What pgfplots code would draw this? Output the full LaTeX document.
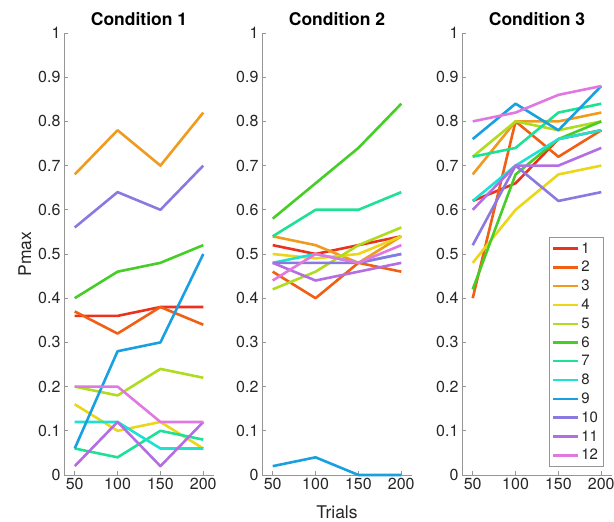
\documentclass[border=0pt]{standalone}
\usepackage{fontspec}
\setmainfont{TeX Gyre Heros}
\usepackage{pgfplots}
\usepackage{pgfplotstable}
\pgfplotsset{compat=1.18}

\definecolor{c1}{RGB}{235,50,30}
\definecolor{c2}{RGB}{240,95,20}
\definecolor{c3}{RGB}{240,155,30}
\definecolor{c4}{RGB}{235,215,25}
\definecolor{c5}{RGB}{175,220,30}
\definecolor{c6}{RGB}{70,205,40}
\definecolor{c7}{RGB}{30,225,150}
\definecolor{c8}{RGB}{30,225,210}
\definecolor{c9}{RGB}{25,160,225}
\definecolor{c10}{RGB}{140,120,225}
\definecolor{c11}{RGB}{180,110,225}
\definecolor{c12}{RGB}{225,120,225}
\definecolor{axgray}{RGB}{150,150,150}
\definecolor{txt}{RGB}{38,38,38}

\pgfplotstableread{
x s1 s2 s3 s4 s5 s6 s7 s8 s9 s10 s11 s12
50 0.36 0.37 0.68 0.16 0.20 0.40 0.06 0.12 0.06 0.56 0.02 0.20
100 0.36 0.32 0.78 0.10 0.18 0.46 0.04 0.12 0.28 0.64 0.12 0.20
150 0.38 0.38 0.70 0.12 0.24 0.48 0.10 0.06 0.30 0.60 0.02 0.12
200 0.38 0.34 0.82 0.06 0.22 0.52 0.08 0.06 0.50 0.70 0.12 0.12
}\condA
\pgfplotstableread{
x s1 s2 s3 s4 s5 s6 s7 s8 s9 s10 s11 s12
50 0.52 0.46 0.54 0.50 0.42 0.58 0.54 0.48 0.02 0.48 0.48 0.44
100 0.50 0.40 0.52 0.49 0.46 0.66 0.60 0.50 0.04 0.48 0.44 0.50
150 0.52 0.48 0.48 0.50 0.52 0.74 0.60 0.48 0.00 0.48 0.46 0.48
200 0.54 0.46 0.54 0.54 0.56 0.84 0.64 0.50 0.00 0.50 0.48 0.52
}\condB
\pgfplotstableread{
x s1 s2 s3 s4 s5 s6 s7 s8 s9 s10 s11 s12
50 0.62 0.40 0.68 0.48 0.72 0.42 0.72 0.62 0.76 0.52 0.60 0.80
100 0.66 0.80 0.80 0.60 0.80 0.68 0.74 0.70 0.84 0.70 0.70 0.82
150 0.76 0.72 0.80 0.68 0.78 0.76 0.82 0.76 0.78 0.62 0.70 0.86
200 0.78 0.78 0.82 0.70 0.80 0.80 0.84 0.78 0.88 0.64 0.74 0.88
}\condC

\pgfplotsset{
  panel/.style={
    scale only axis,
    width=150pt, height=442pt,
    anchor=south west,
    xmin=37.5, xmax=212.5, ymin=0, ymax=1,
    xtick={50,100,150,200},
    ytick={0,0.1,0.2,0.3,0.4,0.5,0.6,0.7,0.8,0.9,1},
    yticklabel style={/pgf/number format/fixed,/pgf/number format/precision=1},
    /pgf/number format/assume math mode=true,
    axis x line*=bottom, axis y line*=left,
    axis line style={axgray, line width=0.7pt},
    tick style={axgray, line width=0.7pt},
    major tick length=4pt,
    tick align=inside,
    tick label style={font=\fontsize{16}{16}\selectfont, text=txt},
    title style={font=\fontsize{17.5}{17.5}\selectfont\bfseries, text=black, yshift=-2pt},
    label style={font=\fontsize{17.5}{17.5}\selectfont, text=txt},
    xlabel style={yshift=-8.5pt},
    every axis plot/.append style={line width=2.6pt, line join=round},
    clip=false,
  },
}

\begin{document}
\begin{tikzpicture}
\begin{axis}[panel, at={(64pt,47pt)}, title={Condition 1}, ylabel={Pmax}]
\pgfplotsinvokeforeach{1,...,12}{
  \addplot[color=c#1] table[x=x, y=s#1] {\condA};
}
\end{axis}
\begin{axis}[panel, at={(262pt,47pt)}, title={Condition 2}, xlabel={Trials}]
\pgfplotsinvokeforeach{1,...,12}{
  \addplot[color=c#1] table[x=x, y=s#1] {\condB};
}
\end{axis}
\begin{axis}[panel, at={(462pt,47pt)}, title={Condition 3},
  legend style={at={(0.942,0.538)}, anchor=north east, draw=axgray, line width=0.6pt,
    font=\fontsize{15}{15}\selectfont, text=txt, row sep=2.7pt, inner xsep=3pt, inner ysep=3pt},
  legend cell align=left,
  legend image code/.code={\draw[#1, line width=2.4pt] (0pt,0pt) -- (25pt,0pt);}]
\pgfplotsinvokeforeach{1,...,12}{
  \addplot[color=c#1] table[x=x, y=s#1] {\condC};
}
\legend{1,2,3,4,5,6,7,8,9,10,11,12}
\end{axis}
\pgfresetboundingbox
\path[use as bounding box] (0,0) rectangle (614pt,522pt);
\end{tikzpicture}
\end{document}
